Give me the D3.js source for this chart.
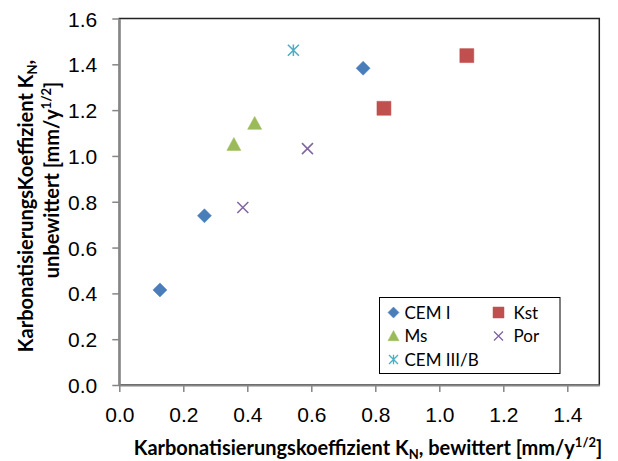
<!DOCTYPE html>
<meta charset="utf-8">
<style>
body { margin: 0; background: #fff; }
svg { font-family: Lato, "Open Sans", sans-serif; }
.axis path { stroke: #868686; stroke-width: 2px; }
.axis line { stroke: #868686; stroke-width: 1.5px; }
.axis text { font-size: 21px; fill: #000; }
.title { font-size: 20px; font-weight: bold; }
.legend text { font-size: 17px; }
</style>
<svg width="618" height="461"></svg>
<script src="https://d3js.org/d3.v7.min.js"></script>
<script>

// series names, colours, and points
var seriesNames = ["CEM I", "Kst", "Ms", "Por", "CEM III/B"];
var seriesColors = ["#4a7ebb", "#c0504d", "#9bbb59", "#8064a2", "#4bacc6"];
var cemI = [[0.127, 0.415], [0.266, 0.739], [0.762, 1.383]];
var kst = [[0.827, 1.208], [1.086, 1.438]];
var ms = [[0.358, 1.050], [0.423, 1.142]];
var por = [[0.386, 0.775], [0.588, 1.032]];
var cem3b = [[0.544, 1.461]];
var xTicks = [0, 0.2, 0.4, 0.6, 0.8, 1.0, 1.2, 1.4];
var yTicks = [0, 0.2, 0.4, 0.6, 0.8, 1.0, 1.2, 1.4, 1.6];

var seriesData = [cemI, kst, ms, por, cem3b];

// custom marker shapes
var shapes = {
  diamond: { draw: function(c, s) { var r = Math.sqrt(s) / 2; c.moveTo(0, -r); c.lineTo(r, 0); c.lineTo(0, r); c.lineTo(-r, 0); c.closePath(); } },
  square: { draw: function(c, s) { var r = Math.sqrt(s) / 2; c.rect(-r, -r, 2 * r, 2 * r); } },
  triangle: { draw: function(c, s) { var r = Math.sqrt(s) / 2; c.moveTo(0, -r); c.lineTo(r, r * 0.85); c.lineTo(-r, r * 0.85); c.closePath(); } },
  times: { draw: function(c, s) { var r = Math.sqrt(s) / 2; c.moveTo(-r, -r); c.lineTo(r, r); c.moveTo(r, -r); c.lineTo(-r, r); } },
  star: { draw: function(c, s) { var r = Math.sqrt(s) / 2; c.moveTo(-r, -r); c.lineTo(r, r); c.moveTo(r, -r); c.lineTo(-r, r); c.moveTo(0, -r * 1.05); c.lineTo(0, r * 1.05); } }
};
var seriesShapes = ["diamond", "square", "triangle", "times", "star"];
var filled = [true, true, true, false, false];

var svg = d3.select("svg"),
    margin = {top: 18.5, right: 18.7, bottom: 76, left: 119.3},
    width = +svg.attr("width") - margin.left - margin.right,
    height = +svg.attr("height") - margin.top - margin.bottom;

var x = d3.scaleLinear().domain([0, 1.5]).range([0, width]),
    y = d3.scaleLinear().domain([0, 1.6]).range([height, 0]);

var g = svg.append("g")
    .attr("transform", "translate(" + margin.left + "," + margin.top + ")");

// plot area border
g.append("rect")
    .attr("width", width)
    .attr("height", height)
    .attr("fill", "none")
    .attr("stroke", "#222")
    .attr("stroke-width", 1.5);

var xAxis = g.append("g")
    .attr("class", "axis")
    .attr("transform", "translate(0," + height + ")")
    .call(d3.axisBottom(x).tickValues(xTicks).tickFormat(d3.format(".1f")).tickSize(7).tickSizeOuter(0));
xAxis.selectAll("text").attr("y", 0).attr("dy", 37);

g.append("g")
    .attr("class", "axis")
    .call(d3.axisLeft(y).tickValues(yTicks).tickFormat(d3.format(".1f")).tickSize(7).tickPadding(15).tickSizeOuter(0))
  .selectAll("text").attr("dy", "0.36em");

g.selectAll(".domain").attr("stroke", "#868686");

// points
seriesData.forEach(function(pts, i) {
  var sym = d3.symbol().type(shapes[seriesShapes[i]]).size(i === 4 || i === 3 ? 121 : 196);
  g.selectAll(".pt" + i)
    .data(pts)
    .enter().append("path")
      .attr("class", "pt" + i)
      .attr("transform", function(d) { return "translate(" + x(d[0]) + "," + y(d[1]) + ")"; })
      .attr("d", sym)
      .attr("fill", filled[i] ? seriesColors[i] : "none")
      .attr("stroke", seriesColors[i])
      .attr("stroke-width", filled[i] ? 0.5 : 1.5);
});

// legend
var legend = svg.append("g")
    .attr("class", "legend")
    .attr("transform", "translate(379.5,297.5)");
legend.append("rect")
    .attr("width", 180.5)
    .attr("height", 76)
    .attr("fill", "#fff")
    .attr("stroke", "#000")
    .attr("stroke-width", 1);

var item = legend.selectAll(".item")
    .data(seriesNames)
    .enter().append("g")
      .attr("class", "item")
      .attr("transform", function(d, i) { return "translate(" + (14 + (i % 2) * 105) + "," + (15 + Math.floor(i / 2) * 23.5) + ")"; });
item.append("path")
    .attr("d", function(d, i) { return d3.symbol().type(shapes[seriesShapes[i]]).size(i > 2 ? 81 : 121)(); })
    .attr("fill", function(d, i) { return filled[i] ? seriesColors[i] : "none"; })
    .attr("stroke", function(d, i) { return seriesColors[i]; })
    .attr("stroke-width", function(d, i) { return filled[i] ? 0.5 : 1.3; });
item.append("text")
    .attr("x", function(d, i) { return i % 2 ? 15 : 11; })
    .attr("dy", "0.36em")
    .text(function(d) { return d; });

// axis titles
var xt = svg.append("text")
    .attr("class", "title")
    .attr("x", 368)
    .attr("y", 455)
    .attr("text-anchor", "middle");
xt.append("tspan").text("Karbonatisierungskoeffizient K");
xt.append("tspan").attr("font-size", "13px").attr("dy", 4).text("N");
xt.append("tspan").attr("dy", -4).text(", bewittert [mm/y");
xt.append("tspan").attr("font-size", "13px").attr("dy", -8).text("1/2");
xt.append("tspan").attr("dy", 8).text("]");

var yt1 = svg.append("text")
    .attr("class", "title")
    .attr("transform", "translate(33,206) rotate(-90)")
    .attr("text-anchor", "middle");
yt1.append("tspan").text("KarbonatisierungsKoeffizient K");
yt1.append("tspan").attr("font-size", "13px").attr("dy", 4).text("N");
yt1.append("tspan").attr("dy", -4).text(",");

var yt2 = svg.append("text")
    .attr("class", "title")
    .attr("transform", "translate(59,180) rotate(-90)")
    .attr("text-anchor", "middle");
yt2.append("tspan").text("unbewittert [mm/y");
yt2.append("tspan").attr("font-size", "13px").attr("dy", -8).text("1/2");
yt2.append("tspan").attr("dy", 8).text("]");

</script>
